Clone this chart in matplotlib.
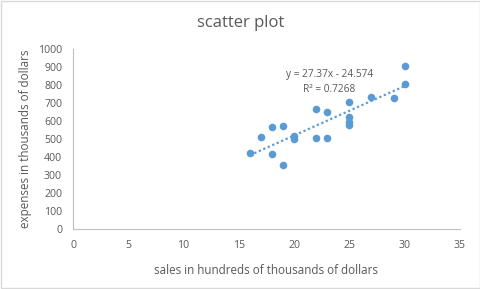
import numpy as np
import matplotlib
matplotlib.use('Agg')
import matplotlib.pyplot as plt
from matplotlib.patches import Rectangle

sales = [16, 17, 18, 18, 19, 19, 20, 20, 22, 22, 23, 23, 25, 25, 25, 25, 27, 29, 30, 30]
expenses = [420, 510, 565, 415, 570, 355, 515, 500, 665, 505, 650, 505, 705, 620, 595, 580, 735, 730, 805, 905]
x_ticks = [0, 5, 10, 15, 20, 25, 30, 35]
y_ticks = list(range(0, 1001, 100))

TEXT = '#595959'
BLUE = '#5B9BD5'

plt.rcParams['font.family'] = ['Open Sans', 'DejaVu Sans']

fig = plt.figure(figsize=(4.81, 2.89), dpi=100)
ax = fig.add_axes([0.152, 0.2076, 0.804, 0.6227])

ax.scatter(sales, expenses, s=30, color=BLUE, zorder=3, linewidths=0)

# linear trendline
slope, intercept = np.polyfit(sales, expenses, 1)
xl = np.array([min(sales), max(sales)])
ax.plot(xl, slope * xl + intercept, color=BLUE, linestyle=(0, (1, 1.2)), linewidth=1.6)
ax.text(23.2, 859, 'y = 27.37x - 24.574', ha='center', va='center', fontsize=7.3, color=TEXT)
ax.text(23.2, 776, 'R² = 0.7268', ha='center', va='center', fontsize=7.3, color=TEXT)

ax.set_xlim(0, 35)
ax.set_ylim(0, 1000)
ax.set_xticks(x_ticks)
ax.set_yticks(y_ticks)
ax.tick_params(length=0, labelsize=7.6, colors=TEXT, pad=8)
for s in ['top', 'right']:
    ax.spines[s].set_visible(False)
for s in ['left', 'bottom']:
    ax.spines[s].set_color('#BFBFBF')
    ax.spines[s].set_linewidth(0.8)

ax.set_xlabel('sales in hundreds of thousands of dollars', fontsize=8.4, color=TEXT, labelpad=9)
ax.set_ylabel('expenses in thousands of dollars', fontsize=8.4, color=TEXT, labelpad=4)
fig.text(0.5, 0.92, 'scatter plot', ha='center', va='center', fontsize=12, color=TEXT)

fig.patches.append(Rectangle((0.002, 0.003), 0.995, 0.993, transform=fig.transFigure,
                             fill=False, edgecolor='#D9D9D9', linewidth=1))

fig.savefig('out.png', dpi=100)
